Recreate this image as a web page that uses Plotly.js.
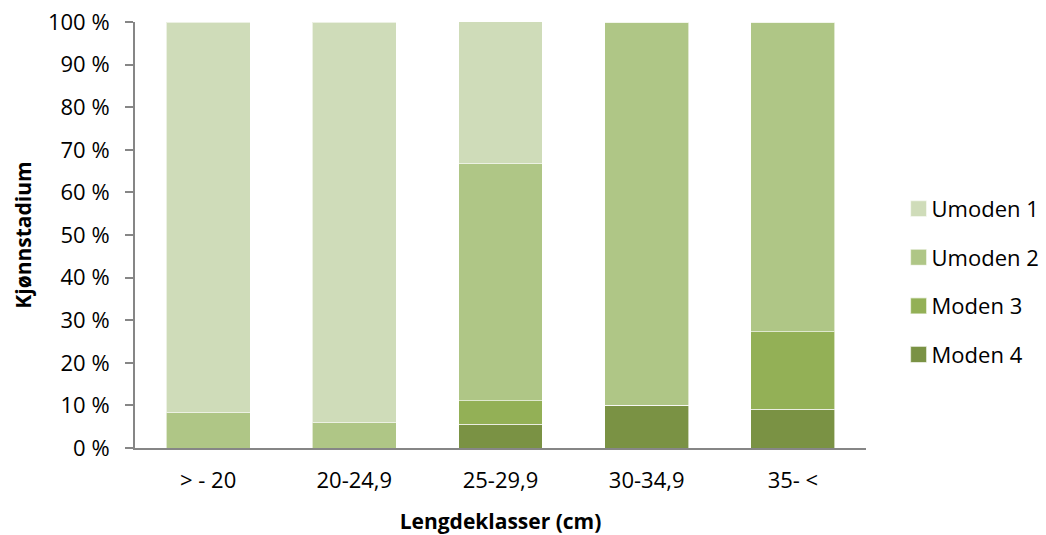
<!DOCTYPE html>
<html>
<head>
<meta charset="utf-8">
<script src="https://cdn.plot.ly/plotly-3.0.1.min.js"></script>
<style>html,body{margin:0;padding:0;background:#fff;}#chart{width:1046px;height:535px;}</style>
</head>
<body>
<div id="chart"></div>
<script>
// Length classes (cm)
const categories = ['> - 20', '20-24,9', '25-29,9', '30-34,9', '35- <'];

// Share of fish in each maturity stage, percent
const moden4  = [0,     0,     5.56,  10,  9.09];
const moden3  = [0,     0,     5.56,  0,   18.18];
const umoden2 = [8.33,  5.88,  55.56, 90,  72.73];
const umoden1 = [91.67, 94.12, 33.33, 0,   0];

const seriesNames = ['Moden 4', 'Moden 3', 'Umoden 2', 'Umoden 1'];
const seriesValues = [moden4, moden3, umoden2, umoden1];
const seriesColors = ['#7a9244', '#93b056', '#afc686', '#cfdcb9'];
const legendRanks = [4, 3, 2, 1];

const yTickVals = [0, 10, 20, 30, 40, 50, 60, 70, 80, 90, 100];
const yTickText = yTickVals.map(v => v + ' %');

const font = "'Open Sans', Lato, 'Liberation Sans', sans-serif";

const traces = seriesNames.map((name, i) => ({
  type: 'bar',
  name: name,
  x: categories,
  y: seriesValues[i],
  legendgroup: name,
  legendrank: legendRanks[i],
  marker: { color: seriesColors[i], line: { color: 'rgba(255,255,255,0.6)', width: 1 } },
  hoverinfo: 'name+y'
}));

const layout = {
  width: 1046,
  height: 535,
  margin: { l: 135, r: 179.5, t: 22, b: 87, autoexpand: false },
  paper_bgcolor: '#ffffff',
  plot_bgcolor: '#ffffff',
  barmode: 'stack',
  bargap: 0.426,
  font: { family: font, size: 22, color: '#000000' },
  showlegend: true,
  legend: {
    x: 1.035, xanchor: 'left', xref: 'paper',
    y: 0.39, yanchor: 'middle',
    traceorder: 'grouped',
    tracegroupgap: 17,
    font: { family: font, size: 22, color: '#000000' },
    itemwidth: 30
  },
  xaxis: {
    type: 'category',
    range: [-0.5, 4.5],
    showline: true,
    linecolor: '#868686',
    linewidth: 2,
    ticks: '',
    ticklabelstandoff: 12,
    showgrid: false,
    zeroline: false,
    tickfont: { family: font, size: 22, color: '#000000' },
    title: { text: '<b>Lengdeklasser (cm)</b>', font: { family: font, size: 21, color: '#000000' }, standoff: 21 }
  },
  yaxis: {
    range: [0, 100],
    tickvals: yTickVals,
    ticktext: yTickText,
    showline: true,
    linecolor: '#868686',
    linewidth: 2,
    ticks: 'outside',
    ticklen: 8,
    tickwidth: 2,
    tickcolor: '#868686',
    ticklabelstandoff: 11,
    showgrid: false,
    zeroline: false,
    tickfont: { family: font, size: 22, color: '#000000' },
    title: { text: '<b>Kjønnstadium</b>', font: { family: font, size: 21, color: '#000000' }, standoff: 11 }
  }
};

Plotly.newPlot('chart', traces, layout, { displayModeBar: false, staticPlot: true }).then(gd => {
  // Larger square swatches, sitting close to the legend text
  gd.querySelectorAll('.legend .legendpoints path').forEach(p => {
    p.setAttribute('transform', 'translate(27,0) scale(1.35)');
  });
});
</script>
</body>
</html>
